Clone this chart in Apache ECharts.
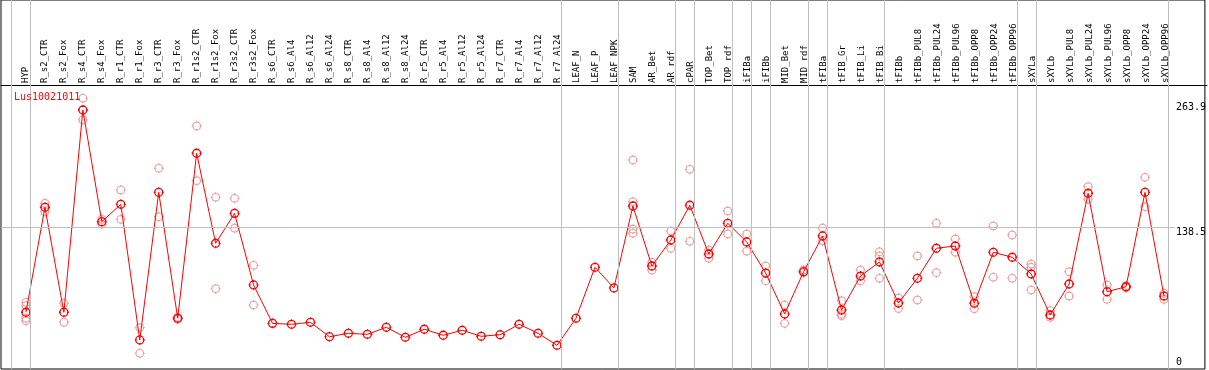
<!DOCTYPE html>
<html>
<head>
<meta charset="utf-8">
<script src="https://cdn.jsdelivr.net/npm/echarts@6/dist/echarts.min.js"></script>
<style>
html,body{margin:0;padding:0;background:#fff;}
#chart{width:1209px;height:370px;}
</style>
</head>
<body>
<div id="chart"></div>
<script>
const seriesName = 'Lus10021011';
const categories = ['HYP','R_s2_CTR','R_s2_Fox','R_s4_CTR','R_s4_Fox','R_r1_CTR','R_r1_Fox','R_r3_CTR','R_r3_Fox','R_r1s2_CTR','R_r1s2_Fox','R_r3s2_CTR','R_r3s2_Fox','R_s6_CTR','R_s6_Al4','R_s6_Al12','R_s6_Al24','R_s8_CTR','R_s8_Al4','R_s8_Al12','R_s8_Al24','R_r5_CTR','R_r5_Al4','R_r5_Al12','R_r5_Al24','R_r7_CTR','R_r7_Al4','R_r7_Al12','R_r7_Al24','LEAF_N','LEAF_P','LEAF_NPK','SAM','AR_Bet','AR_rdf','cPAR','TOP_Bet','TOP_rdf','iFIBa','iFIBb','MID_Bet','MID_rdf','tFIBa','tFIB_Gr','tFIB_Li','tFIB_Bi','tFIBb','tFIBb_PUL8','tFIBb_PUL24','tFIBb_PUL96','tFIBb_OPP8','tFIBb_OPP24','tFIBb_OPP96','sXYLa','sXYLb','sXYLb_PUL8','sXYLb_PUL24','sXYLb_PUL96','sXYLb_OPP8','sXYLb_OPP24','sXYLb_OPP96'];
const means = [48.4,160.2,48.4,263.9,144.9,163.4,18.9,176.2,42.0,217.8,121.9,153.8,77.5,36.6,35.6,37.7,22.4,26.0,24.9,32.4,21.7,30.3,23.9,29.2,22.8,24.5,35.6,26.0,13.2,42.0,96.3,74.3,161.6,97.7,125.4,162.4,110.5,143.2,123.3,90.2,46.6,91.6,129.7,50.8,87.0,102.0,58.3,84.6,116.6,119.0,58.0,112.3,107.0,89.2,45.5,78.5,175.2,70.3,75.6,176.2,65.7];
const replicates = [
  [59.0,55.4,42.0,39.4],[164.5,155.6],[58.0,37.7],[276.4,253.3],[147.5,142.3],[178.7,147.4],[32.0,4.7],[201.8,150.2],[43.0,40.9],[246.9,188.6],[170.9,73.5],[169.8,137.9],[98.4,56.1],
  [],[],[],[],[],[],[],[],[],[],[],[],[],[],[],[],[],[],[],
  [210.6,166.2,137.0,132.6],[101.6,93.4],[135.0,116.6],[200.7,124.0],[114.7,105.9],[156.3,131.8],[131.8,113.4],[97.7,82.0],[56.1,36.6],[93.4,90.6],[138.2,124.7],[60.7,46.2,44.7],[93.4,82.0],[112.9,108.4,84.6],[63.5,52.4],[108.4,61.5],[143.2,90.6],[126.5,112.3],[65.0,52.2],[140.3,85.7],[130.7,84.6],[99.8,96.3,72.1],[50.1,43.0],[91.6,65.7],[182.2,168.8],[77.5,62.2],[76.8,74.4],[192.2,160.9],[68.6,62.2]
];
const groupEnds = [-1,0,28,31,34,35,37,38,39,41,42,45,52,53,60];
const yTickLabels = [0, 138.5];
const yTopLabel = [263.9];
const refLine = 138.5;

const X_MIN = -25/19, X_MAX = 1181/19;
const Y_MIN = -12.04, Y_MAX = 381.1;
const FONT = 'DejaVu Sans Mono';
const markerPath = 'path://M0,4A4,4,0,1,0,8,4A4,4,0,1,0,0,4ZM4,-1L4,1M4,7L4,9M-1,4L1,4M7,4L9,4';

const meanData = means.map((v,i)=>[i,v]);
const repData = [];
replicates.forEach((arr,i)=>arr.forEach(v=>repData.push([i,v])));

const chart = echarts.init(document.getElementById('chart'));
chart.setOption({
  animation:false,
  backgroundColor:'#fff',
  title:{text:seriesName,left:9,top:87,textStyle:{color:'#ff0000',fontFamily:FONT,fontSize:10,fontWeight:'normal'}},
  grid:[
    {left:1,right:2,top:0,bottom:1,show:true,borderColor:'#000',borderWidth:1,backgroundColor:'#fff'},
    {left:1,right:2,top:0,height:85,show:false}
  ],
  xAxis:[
    {type:'value',gridIndex:0,min:X_MIN,max:X_MAX,position:'bottom',axisLine:{show:false},axisTick:{show:false},axisLabel:{show:false},splitLine:{show:false}},
    {type:'value',gridIndex:1,min:X_MIN,max:X_MAX,position:'bottom',
     axisLine:{show:true,onZero:false,lineStyle:{color:'#000',width:1}},axisTick:{show:false},splitLine:{show:false},
     axisLabel:{show:true,inside:true,customValues:categories.map((c,i)=>i),formatter:(v)=>categories[Math.round(v)]||'',rotate:90,margin:2,color:'#000',fontFamily:FONT,fontSize:9}}
  ],
  yAxis:[
    {type:'value',gridIndex:0,min:Y_MIN,max:Y_MAX,position:'right',axisLine:{show:false},axisTick:{show:false},splitLine:{show:false},
     axisLabel:{show:true,customValues:yTickLabels,formatter:(v)=>String(v),margin:-29,align:'left',verticalAlign:'top',color:'#000',fontFamily:FONT,fontSize:10}},
    {type:'value',gridIndex:0,min:Y_MIN,max:Y_MAX,position:'right',axisLine:{show:false},axisTick:{show:false},splitLine:{show:false},
     axisLabel:{show:true,customValues:yTopLabel,formatter:(v)=>String(v),margin:-29,align:'left',verticalAlign:'bottom',lineHeight:6,color:'#000',fontFamily:FONT,fontSize:10}},
    {type:'value',gridIndex:1,min:0,max:1,show:false}
  ],
  series:[
    {type:'line',xAxisIndex:0,yAxisIndex:0,data:[],silent:true,
     markLine:{silent:true,symbol:'none',label:{show:false},lineStyle:{color:'#c0c0c0',width:1,type:'solid'},
       data:groupEnds.map(i=>({xAxis:i+0.242})).concat([[{coord:[X_MIN,refLine]},{coord:[60.58,refLine]}]])}},
    {type:'scatter',xAxisIndex:0,yAxisIndex:0,name:'replicates',data:repData,symbol:markerPath,symbolSize:10,
     itemStyle:{color:'rgba(0,0,0,0)',borderColor:'#f09a9a',borderWidth:1,opacity:1},z:3},
    {type:'line',xAxisIndex:0,yAxisIndex:0,name:seriesName,data:meanData,symbol:markerPath,symbolSize:10,showAllSymbol:true,
     lineStyle:{color:'#ff0000',width:1},itemStyle:{color:'rgba(0,0,0,0)',borderColor:'#ff0000',borderWidth:1.3},z:4}
  ]
});
</script>
</body>
</html>
